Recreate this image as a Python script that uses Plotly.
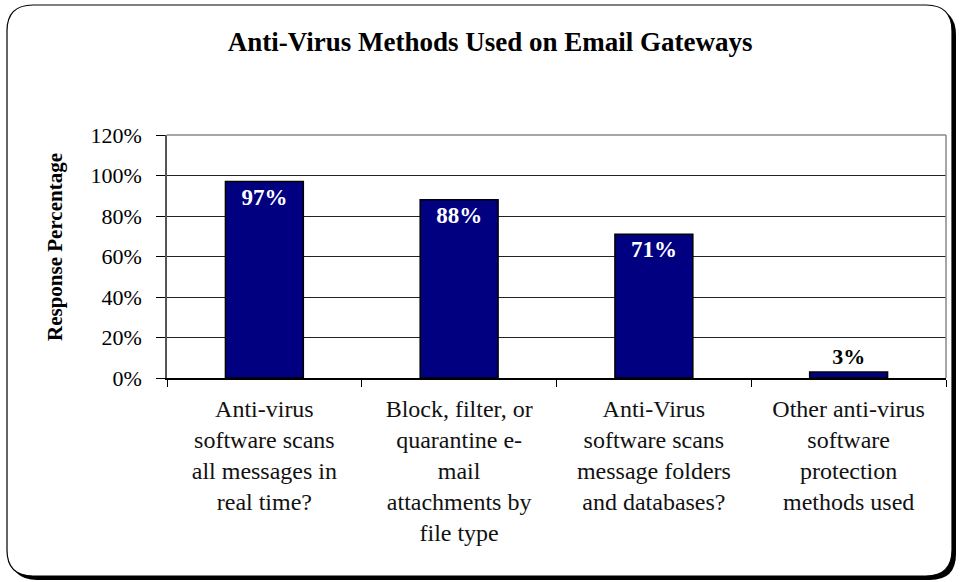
import plotly.graph_objects as go

categories = [
    "Anti-virus<br>software scans<br>all messages in<br>real time?",
    "Block, filter, or<br>quarantine e-<br>mail<br>attachments by<br>file type",
    "Anti-Virus<br>software scans<br>message folders<br>and databases?",
    "Other anti-virus<br>software<br>protection<br>methods used",
]
values = [97, 88, 71, 3]
labels = ["97%", "88%", "71%", "3%"]
y_ticks = [0, 20, 40, 60, 80, 100, 120]
y_ticklabels = ["0%", "20%", "40%", "60%", "80%", "100%", "120%"]

W, H = 961, 582
ML, MR, MT, MB = 167, 15, 135, 204
PW, PH = W - ML - MR, H - MT - MB

def px(x):
    return (x - ML) / PW

def py(y):
    return 1 - (y - MT) / PH

def rrect(x0, y0, x1, y1, r):
    return (f"M {px(x0+r)} {py(y0)} L {px(x1-r)} {py(y0)} "
            f"Q {px(x1)} {py(y0)} {px(x1)} {py(y0+r)} "
            f"L {px(x1)} {py(y1-r)} Q {px(x1)} {py(y1)} {px(x1-r)} {py(y1)} "
            f"L {px(x0+r)} {py(y1)} Q {px(x0)} {py(y1)} {px(x0)} {py(y1-r)} "
            f"L {px(x0)} {py(y0+r)} Q {px(x0)} {py(y0)} {px(x0+r)} {py(y0)} Z")

positions = ["inside", "inside", "inside", "outside"]

fig = go.Figure(go.Bar(
    x=categories, y=values, text=labels,
    textposition=positions,
    insidetextanchor="end",
    texttemplate="<b>%{text}</b>",
    outsidetextfont=dict(family="Liberation Serif", size=22, color="black"),
    insidetextfont=dict(family="Liberation Serif", size=23, color="white"),
    marker=dict(color="#000080", line=dict(color="black", width=1.5)),
    width=0.4,
    cliponaxis=False,
))

fig.update_layout(
    width=W, height=H,
    margin=dict(l=ML, r=MR, t=MT, b=MB, autoexpand=False),
    paper_bgcolor="white", plot_bgcolor="white",
    showlegend=False,
    font=dict(family="Liberation Serif", color="black"),
    title=dict(text="<b>Anti-Virus Methods Used on Email Gateways</b>",
               x=0.51, xanchor="center", y=1 - 42 / H, yanchor="middle",
               font=dict(family="Liberation Serif", size=27, color="black")),
    yaxis=dict(range=[0, 120], tickvals=y_ticks, ticktext=y_ticklabels,
               showgrid=True, gridcolor="#222222", gridwidth=1,
               ticks="outside", ticklen=9, tickcolor="black",
               ticklabelstandoff=10,
               showline=True, linecolor="#555555", linewidth=1.5,
               tickfont=dict(family="Liberation Serif", size=22, color="black"),
               zeroline=False, mirror=False, fixedrange=True),
    xaxis=dict(showline=True, linecolor="black", linewidth=1.5,
               ticks="outside", ticklen=7, tickcolor="black",
               tickson="boundaries", ticklabelstandoff=8,
               tickfont=dict(family="Liberation Serif", size=24, color="#111111"),
               fixedrange=True),
    annotations=[
        dict(text="<b>Response Percentage</b>", xref="paper", yref="paper",
             x=px(55), y=py(247), textangle=-90, showarrow=False,
             xanchor="center", yanchor="middle",
             font=dict(family="Liberation Serif", size=21, color="black")),
    ],
    shapes=[
        dict(type="path", xref="paper", yref="paper", layer="below",
             path=rrect(11, 9, 956, 580, 26), fillcolor="black", line=dict(width=0)),
        dict(type="path", xref="paper", yref="paper", layer="below",
             path=rrect(7, 5, 952, 576, 26), fillcolor="white",
             line=dict(color="black", width=1.2)),
        dict(type="line", xref="paper", yref="paper", x0=0, x1=1, y0=1, y1=1,
             line=dict(color="#888888", width=1.5)),
        dict(type="line", xref="paper", yref="paper", x0=1, x1=1, y0=0, y1=1,
             line=dict(color="#888888", width=1.5)),
    ],
)

fig.write_html("out.html")
